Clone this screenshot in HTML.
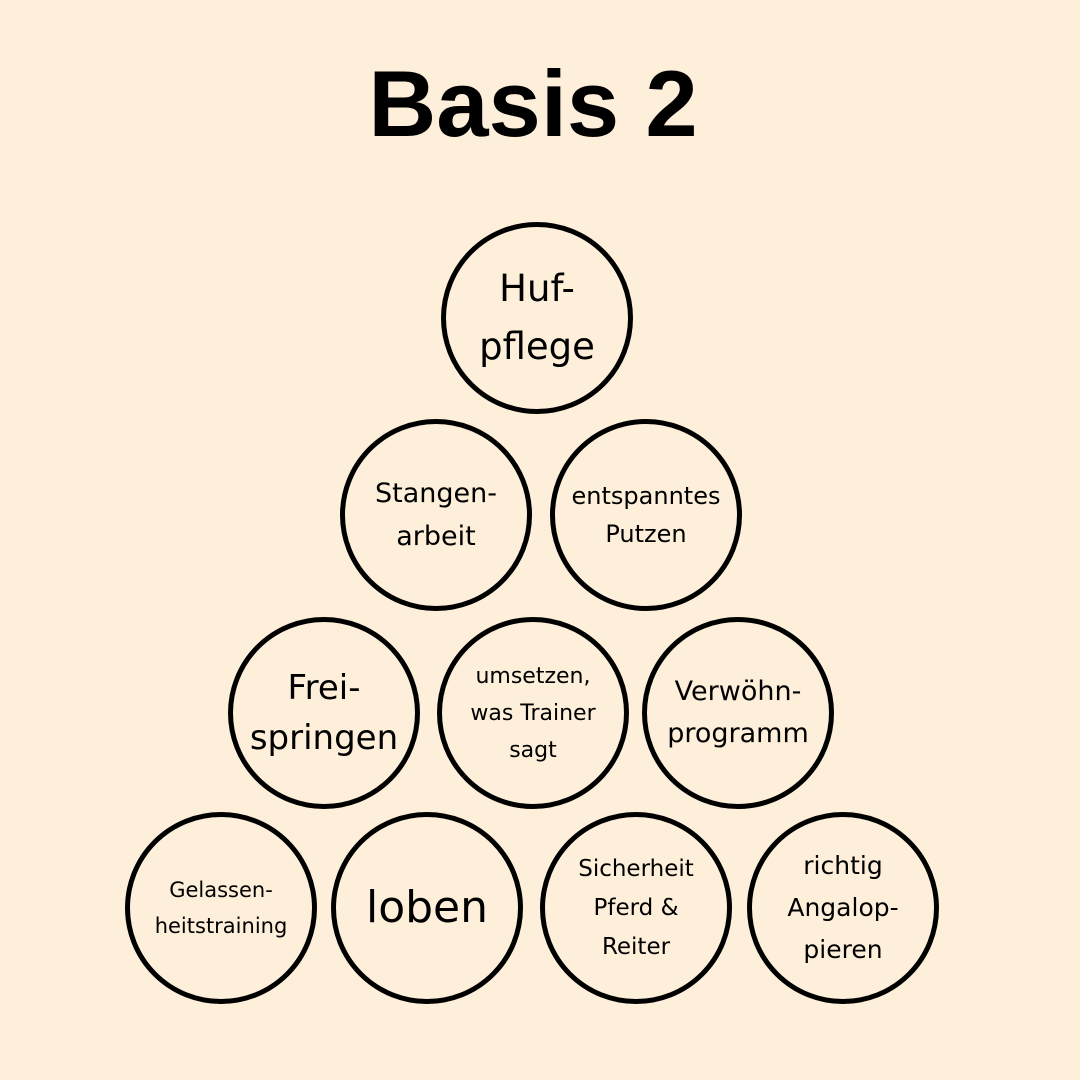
<!DOCTYPE html>
<html><head><meta charset="utf-8"><style>
body{margin:0;width:1080px;height:1080px;background:#fdefd9;position:relative;overflow:hidden;font-family:"DejaVu Sans","Liberation Sans",sans-serif;color:#000}
h1{position:absolute;top:44px;left:0;width:1066px;margin:0;text-align:center;font-family:"Liberation Sans",sans-serif;font-weight:bold;font-size:94px;line-height:120px}
.c{position:absolute;width:182px;height:182px;border:5px solid #000;border-radius:50%;display:flex;align-items:center;justify-content:center;text-align:center;box-sizing:content-box}
</style></head><body>
<h1>Basis 2</h1>
<div class="c" style="left:441px;top:222px;font-size:37px;line-height:58px">Huf-<br>pflege</div>
<div class="c" style="left:340px;top:419px;font-size:27px;line-height:43px">Stangen-<br>arbeit</div>
<div class="c" style="left:550px;top:419px;font-size:24px;line-height:38px">entspanntes<br>Putzen</div>
<div class="c" style="left:228px;top:617px;font-size:34px;line-height:50px">Frei-<br>springen</div>
<div class="c" style="left:437px;top:617px;font-size:22px;line-height:37px">umsetzen,<br>was Trainer<br>sagt</div>
<div class="c" style="left:642px;top:617px;font-size:27px;line-height:42px">Verwöhn-<br>programm</div>
<div class="c" style="left:125px;top:812px;font-size:21px;line-height:36px">Gelassen-<br>heitstraining</div>
<div class="c" style="left:331px;top:812px;font-size:44px;line-height:50px">loben</div>
<div class="c" style="left:540px;top:812px;font-size:23px;line-height:39px">Sicherheit<br>Pferd &amp;<br>Reiter</div>
<div class="c" style="left:747px;top:812px;font-size:25px;line-height:42px">richtig<br>Angalop-<br>pieren</div>
</body></html>
